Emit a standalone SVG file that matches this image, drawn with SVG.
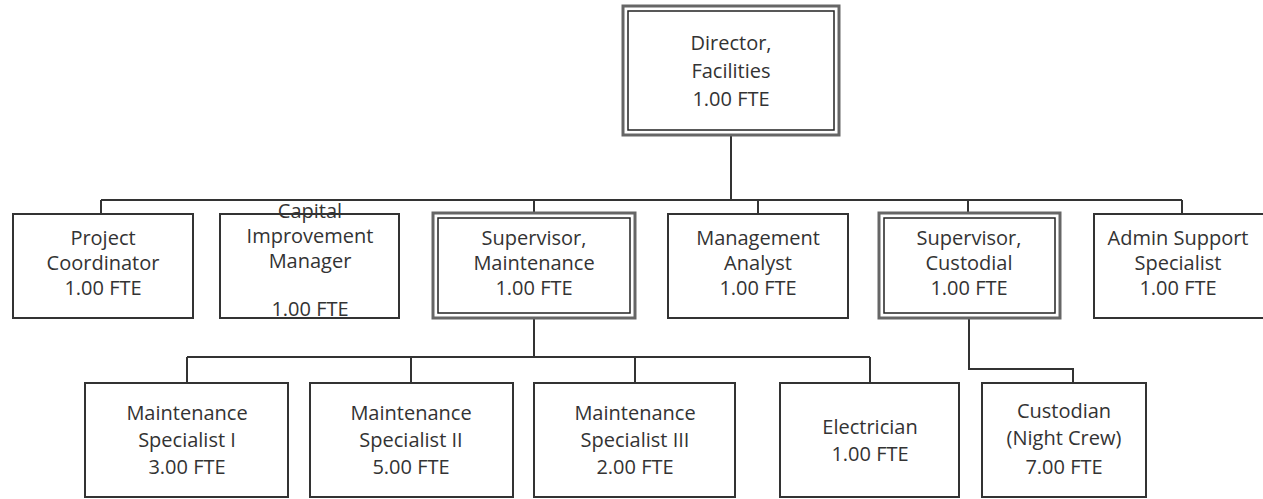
<svg xmlns="http://www.w3.org/2000/svg" width="1263" height="499" viewBox="0 0 1263 499">
<style>
.box{fill:#fff;stroke:#333;stroke-width:2}
.outer{fill:#fff;stroke:#666;stroke-width:3}
.inner{fill:none;stroke:#222;stroke-width:1.5}
.t{font-family:"Open Sans","DejaVu Sans",sans-serif;font-size:20px;fill:#333;text-anchor:middle}
.c{fill:none;stroke:#333;stroke-width:2}
</style>
<rect width="1263" height="499" fill="#fff"/>
<g id="connectors">
<path class="c" d="M731 135V200M101 200H1182M101 200V214M534 200V213M758 200V214M968 200V213M1182 200V214"/>
<path class="c" d="M534 318V357M187 357H870M187 357V383M411 357V383M635 357V383M870 357V383"/>
<path class="c" d="M969 318V369H1073V383"/>
</g>
<g id="director">
<rect class="outer" x="623" y="6" width="216" height="129"/>
<rect class="inner" x="628" y="11" width="206" height="119"/>
<text class="t" x="731" y="50">Director,</text>
<text class="t" x="731" y="78">Facilities</text>
<text class="t" x="731" y="106">1.00 FTE</text>
</g>
<g id="project-coordinator">
<rect class="box" x="13" y="214" width="180" height="104"/>
<text class="t" x="103" y="245">Project</text>
<text class="t" x="103" y="270">Coordinator</text>
<text class="t" x="103" y="295">1.00 FTE</text>
</g>
<g id="capital-improvement-manager">
<rect class="box" x="220" y="214" width="179" height="104"/>
<text class="t" x="310" y="218">Capital</text>
<text class="t" x="310" y="243">Improvement</text>
<text class="t" x="310" y="268">Manager</text>
<text class="t" x="310" y="316">1.00 FTE</text>
</g>
<g id="supervisor-maintenance">
<rect class="outer" x="433" y="213" width="202" height="105"/>
<rect class="inner" x="438" y="218" width="192" height="95"/>
<text class="t" x="534" y="245">Supervisor,</text>
<text class="t" x="534" y="270">Maintenance</text>
<text class="t" x="534" y="295">1.00 FTE</text>
</g>
<g id="management-analyst">
<rect class="box" x="668" y="214" width="180" height="104"/>
<text class="t" x="758" y="245">Management</text>
<text class="t" x="758" y="270">Analyst</text>
<text class="t" x="758" y="295">1.00 FTE</text>
</g>
<g id="supervisor-custodial">
<rect class="outer" x="879" y="213" width="181" height="105"/>
<rect class="inner" x="884" y="218" width="171" height="95"/>
<text class="t" x="969" y="245">Supervisor,</text>
<text class="t" x="969" y="270">Custodial</text>
<text class="t" x="969" y="295">1.00 FTE</text>
</g>
<g id="admin-support-specialist">
<rect class="box" x="1094" y="214" width="176" height="104"/>
<text class="t" x="1178" y="245">Admin Support</text>
<text class="t" x="1178" y="270">Specialist</text>
<text class="t" x="1178" y="295">1.00 FTE</text>
</g>
<g id="maintenance-specialist-1">
<rect class="box" x="85" y="383" width="203" height="114"/>
<text class="t" x="187" y="420">Maintenance</text>
<text class="t" x="187" y="447">Specialist I</text>
<text class="t" x="187" y="474">3.00 FTE</text>
</g>
<g id="maintenance-specialist-2">
<rect class="box" x="310" y="383" width="203" height="114"/>
<text class="t" x="411" y="420">Maintenance</text>
<text class="t" x="411" y="447">Specialist II</text>
<text class="t" x="411" y="474">5.00 FTE</text>
</g>
<g id="maintenance-specialist-3">
<rect class="box" x="534" y="383" width="201" height="114"/>
<text class="t" x="635" y="420">Maintenance</text>
<text class="t" x="635" y="447">Specialist III</text>
<text class="t" x="635" y="474">2.00 FTE</text>
</g>
<g id="electrician">
<rect class="box" x="780" y="383" width="179" height="114"/>
<text class="t" x="870" y="434">Electrician</text>
<text class="t" x="870" y="461">1.00 FTE</text>
</g>
<g id="custodian">
<rect class="box" x="982" y="383" width="164" height="114"/>
<text class="t" x="1064" y="418">Custodian</text>
<text class="t" x="1064" y="445">(Night Crew)</text>
<text class="t" x="1064" y="474">7.00 FTE</text>
</g>
</svg>
